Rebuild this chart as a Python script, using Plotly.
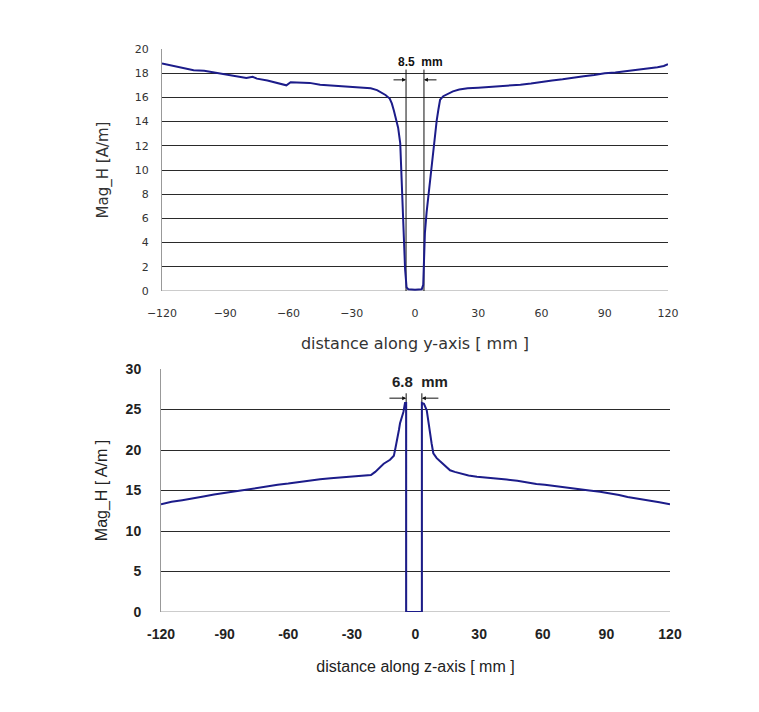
import plotly.graph_objects as go

# ---- data: top chart (distance along y-axis) ----
y_dist = [-120, -115, -110, -105, -100, -95, -90, -85, -80, -77, -75, -70, -65, -61, -59, -55,
          -50, -45, -40, -35, -30, -25, -21, -18, -16, -14, -12, -11, -10, -9, -8, -7, -6.3,
          -5.5, -4.7, -4, -3.2, 0, 3.2, 3.9, 4.7, 5.5, 6.3, 7.1, 7.9, 8.7, 9.5, 10.3, 11.1,
          11.9, 13.4, 16, 18, 21, 25, 30, 35, 40, 45, 50, 55, 60, 65, 70, 75, 80, 85, 90, 95,
          100, 105, 110, 115, 118, 120]
y_mag = [18.8, 18.6, 18.4, 18.25, 18.2, 18.05, 17.9, 17.75, 17.6, 17.7, 17.55, 17.4, 17.2,
         17.0, 17.25, 17.25, 17.2, 17.05, 17.0, 16.9, 16.85, 16.8, 16.75, 16.6, 16.4, 16.2,
         15.9, 15.5, 14.9, 14.3, 13.5, 12.2, 8.5, 5.0, 1.8, 0.3, 0.15, 0.1, 0.15, 0.5, 4.8,
         6.5, 7.8, 9.0, 10.0, 11.2, 12.5, 14.1, 15.0, 15.8, 16.1, 16.35, 16.5, 16.65, 16.75,
         16.8, 16.85, 16.9, 16.95, 17.05, 17.15, 17.3, 17.4, 17.5, 17.65, 17.75, 17.85, 18.0,
         18.05, 18.15, 18.25, 18.35, 18.5, 18.6, 18.75]

# ---- data: bottom chart (distance along z-axis) ----
z_dist = [-120, -115, -110, -105, -100, -95, -90, -85, -80, -75, -70, -65, -60, -55, -50, -45,
          -40, -35, -30, -25, -21, -19, -17, -15, -12, -10.2, -9.4, -8.6, -7.8, -7.3, -6.5,
          -5.7, -4.95, -4.4, -4.4, 3.0, 3.0, 4.0, 5.3, 6.0, 6.8, 7.6, 8.4, 10, 11.6, 14, 16.3,
          18.5, 21, 25, 29, 34, 38, 43, 48, 52, 57, 61, 65, 70, 74, 78, 82, 87, 92, 96, 100,
          105, 109, 115, 120]
z_mag = [13.3, 13.6, 13.8, 14.0, 14.25, 14.5, 14.7, 14.9, 15.1, 15.35, 15.5, 15.7, 15.85,
         16.05, 16.25, 16.4, 16.5, 16.6, 16.7, 16.8, 16.9, 17.3, 17.8, 18.3, 18.8, 19.3, 20.3,
         21.2, 22.5, 23.3, 24.0, 24.7, 25.8, 25.8, 0, 0, 25.8, 25.7, 24.9, 23.5, 22.1, 20.8,
         19.6, 19.0, 18.6, 18.0, 17.5, 17.3, 17.1, 16.85, 16.7, 16.6, 16.5, 16.35, 16.2, 16.0,
         15.8, 15.7, 15.55, 15.4, 15.3, 15.15, 15.0, 14.85, 14.65, 14.45, 14.2, 14.0, 13.8,
         13.55, 13.3]

x_ticks = [-120, -90, -60, -30, 0, 30, 60, 90, 120]
x_ticktext_top = ["\u2212120", "\u221290", "\u221260", "\u221230", "0", "30", "60", "90", "120"]
x_ticktext_bot = ["-120", "-90", "-60", "-30", "0", "30", "60", "90", "120"]
top_yticks = [0, 2, 4, 6, 8, 10, 12, 14, 16, 18, 20]
bot_yticks = [0, 5, 10, 15, 20, 25, 30]

top_gap = [-4.25, 4.25]
bot_gap = [-4.4, 3.0]
top_label = "8.5  mm"
bot_label = "6.8  mm"

LINE = "#1c1c8a"
GRID = "#2a2a2a"
TOPFONT = dict(family="DejaVu Sans", size=11, color="#333333")
BOTFONT = dict(family="Liberation Sans", size=14, color="#222222", weight="bold")

W, H, OFF = 759, 712, 8


def px_x(a, b):
    return [(a - OFF) / W, (b - OFF) / W]


def px_y(top, bottom):
    return [1 - (bottom - OFF) / H, 1 - (top - OFF) / H]


fig = go.Figure()

# black reference lines (under the data)
for gx in top_gap:
    fig.add_trace(go.Scatter(x=[gx, gx], y=[0, 18.3], mode="lines", xaxis="x", yaxis="y",
                             line=dict(color="#111111", width=1), hoverinfo="skip",
                             showlegend=False))
for gx in bot_gap:
    fig.add_trace(go.Scatter(x=[gx, gx], y=[0, 27], mode="lines", xaxis="x2", yaxis="y2",
                             line=dict(color="#111111", width=1), hoverinfo="skip",
                             showlegend=False))

fig.add_trace(go.Scatter(x=y_dist, y=y_mag, mode="lines", xaxis="x", yaxis="y",
                         line=dict(color=LINE, width=2), showlegend=False))
fig.add_trace(go.Scatter(x=z_dist, y=z_mag, mode="lines", xaxis="x2", yaxis="y2",
                         line=dict(color=LINE, width=2), showlegend=False))

ann = []
# top arrows + label
ann.append(dict(x=top_gap[0], y=17.45, ax=-10.9, ay=17.45, xref="x", yref="y", axref="x",
                ayref="y", showarrow=True, arrowhead=2, arrowsize=0.8, arrowwidth=1,
                arrowcolor="#111111", text=""))
ann.append(dict(x=top_gap[1], y=17.45, ax=10.9, ay=17.45, xref="x", yref="y", axref="x",
                ayref="y", showarrow=True, arrowhead=2, arrowsize=0.8, arrowwidth=1,
                arrowcolor="#111111", text=""))
ann.append(dict(x=2.8, y=18.9, xref="x", yref="y", text=top_label, showarrow=False,
                font=dict(family="Liberation Sans", size=12, color="#111111", weight="bold")))
# bottom arrows + label
ann.append(dict(x=bot_gap[0], y=26.4, ax=-13, ay=26.4, xref="x2", yref="y2", axref="x2",
                ayref="y2", showarrow=True, arrowhead=2, arrowsize=0.8, arrowwidth=1,
                arrowcolor="#111111", text=""))
ann.append(dict(x=bot_gap[1], y=26.4, ax=11.5, ay=26.4, xref="x2", yref="y2", axref="x2",
                ayref="y2", showarrow=True, arrowhead=2, arrowsize=0.8, arrowwidth=1,
                arrowcolor="#111111", text=""))
ann.append(dict(x=2.1, y=28.5, xref="x2", yref="y2", text=bot_label, showarrow=False,
                font=dict(family="Liberation Sans", size=15, color="#222222", weight="bold")))

fig.update_layout(
    width=W, height=H,
    margin=dict(l=0, r=0, t=0, b=0),
    paper_bgcolor="white", plot_bgcolor="white",
    annotations=ann,
    xaxis=dict(domain=px_x(162, 668), range=[-120, 120], tickvals=x_ticks,
               ticktext=x_ticktext_top, automargin=False,
               showgrid=False, zeroline=False, showline=False, ticks="",
               tickfont=TOPFONT, ticklabelstandoff=14, anchor="y",
               title=dict(text="distance along y-axis [ mm ]", standoff=18,
                          font=dict(family="DejaVu Sans", size=16, color="#333333"))),
    yaxis=dict(domain=px_y(49, 291), range=[0, 20], tickvals=top_yticks,
               automargin=False,
               showgrid=True, gridcolor=GRID, gridwidth=1, zeroline=False,
               showline=True, linecolor="#999999", linewidth=1, ticks="",
               tickfont=TOPFONT, ticklabelstandoff=10, anchor="x",
               title=dict(text="Mag_H [A/m]", standoff=22,
                          font=dict(family="DejaVu Sans", size=15, color="#333333"))),
    xaxis2=dict(domain=px_x(161, 670), range=[-120, 120], tickvals=x_ticks,
                ticktext=x_ticktext_bot, automargin=False,
                showgrid=False, zeroline=False, showline=False, ticks="",
                tickfont=BOTFONT, ticklabelstandoff=12, anchor="y2",
                title=dict(text="distance along z-axis [ mm ]", standoff=19,
                           font=dict(family="Liberation Sans", size=16, color="#222222"))),
    yaxis2=dict(domain=px_y(369, 612), range=[0, 30], tickvals=bot_yticks,
                automargin=False,
                showgrid=True, gridcolor=GRID, gridwidth=1, zeroline=False,
                showline=True, linecolor="#999999", linewidth=1, ticks="",
                tickfont=BOTFONT, ticklabelstandoff=16, anchor="x2",
                title=dict(text="Mag_H [ A/m ]", standoff=14,
                           font=dict(family="Liberation Sans", size=16, color="#222222"))),
)

# bottom baseline (y=0) gray lines for both panels
fig.add_shape(type="line", xref="x", yref="y", x0=-120, x1=120, y0=0, y1=0,
              line=dict(color="#999999", width=1), layer="below")
fig.add_shape(type="line", xref="x2", yref="y2", x0=-120, x1=120, y0=0, y1=0,
              line=dict(color="#999999", width=1), layer="below")

fig.write_html("out.html")
